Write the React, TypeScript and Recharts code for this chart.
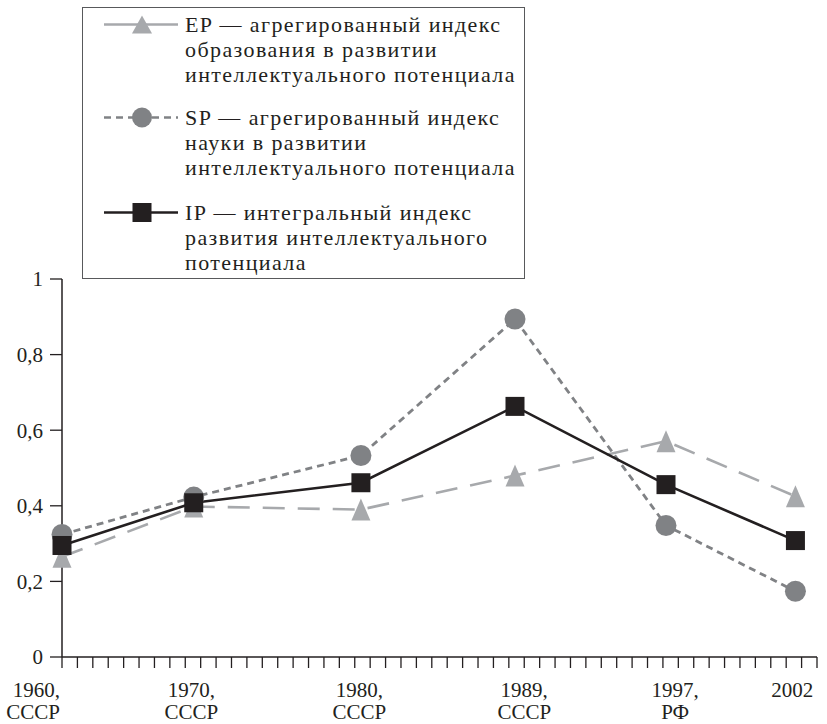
import React from 'react';
import { LineChart, Line, XAxis, YAxis } from 'recharts';

// observation labels under the x axis
const yearLabels = ['1960,', '1970,', '1980,', '1989,', '1997,', '2002'];
const regionLabels = ['СССР', 'СССР', 'СССР', 'СССР', 'РФ', ''];
// where each observation sits on the axis, in minor-tick units (axis runs 0..49)
const pointPos = [0, 8.55, 19.4, 29.4, 39.2, 47.6];
const labelPos = [0, 8.4, 19.3, 30, 39.8, 47.4];

const epValues = [0.265, 0.398, 0.39, 0.48, 0.571, 0.425];
const spValues = [0.324, 0.423, 0.533, 0.894, 0.348, 0.174];
const ipValues = [0.295, 0.408, 0.461, 0.663, 0.456, 0.308];

const yTicks = [0, 0.2, 0.4, 0.6, 0.8, 1];
const minorTicks = Array.from({ length: 50 }, (_, i) => i);

const epLegend = ['EP — агрегированный индекс', 'образования в развитии', 'интеллектуального потенциала'];
const spLegend = ['SP — агрегированный индекс', 'науки в развитии', 'интеллектуального потенциала'];
const ipLegend = ['IP — интегральный индекс', 'развития интеллектуального', 'потенциала'];

const INK = '#231f20';
const EP_COLOR = '#a7a9ac';
const SP_COLOR = '#808285';
const FONT = '"Liberation Serif", "Times New Roman", serif';

const data = pointPos.map((x, i) => ({ x, ep: epValues[i], sp: spValues[i], ip: ipValues[i] }));
const xTicks = Array.from(new Set([...minorTicks, ...labelPos])).sort((a, b) => a - b);

const Triangle = ({ cx, cy, fill, w = 19, h = 22 }: any) => (
  <path d={`M${cx},${cy - h / 2} L${cx + w / 2},${cy + h / 2} L${cx - w / 2},${cy + h / 2} Z`} fill={fill} />
);
const Circle = ({ cx, cy, fill, r = 10.5 }: any) => <circle cx={cx} cy={cy} r={r} fill={fill} />;
const Square = ({ cx, cy, fill, s = 19 }: any) => <rect x={cx - s / 2} y={cy - s / 2} width={s} height={s} fill={fill} />;

const XTick = (props: any) => {
  const { x, y, payload } = props;
  const v = payload.value;
  const li = labelPos.indexOf(v);
  const first = li === 0;
  const tx = first ? x - 2 : x;
  return (
    <g>
      {Number.isInteger(v) && <line x1={x} x2={x} y1={y} y2={y + 11} stroke={INK} strokeWidth={1.3} />}
      {li >= 0 && (
        <text x={tx} textAnchor={first ? 'end' : 'middle'} fontFamily={FONT} fontSize={21} fill={INK}>
          <tspan x={tx} y={y + 40}>{yearLabels[li]}</tspan>
          <tspan x={tx} y={y + 62}>{regionLabels[li]}</tspan>
        </text>
      )}
    </g>
  );
};

const LegendEntry = ({ lines, marker, color, dash, marginTop }: any) => (
  <div style={{ position: 'relative', marginTop, paddingLeft: 102 }}>
    <svg width={100} height={25} style={{ position: 'absolute', left: 0, top: 0 }}>
      <line x1={21} x2={95} y1={12.5} y2={12.5} stroke={color} strokeWidth={2.6} strokeDasharray={dash} />
      {marker === 'triangle' && <Triangle cx={59} cy={12.5} fill={color} w={20} h={18} />}
      {marker === 'circle' && <Circle cx={59} cy={12.5} fill={color} r={10} />}
      {marker === 'square' && <Square cx={59} cy={12.5} fill={color} s={19} />}
    </svg>
    {lines.map((t: string, i: number) => (
      <div key={i} style={{ height: 25, lineHeight: '25px', whiteSpace: 'nowrap' }}>{t}</div>
    ))}
  </div>
);

export default function App() {
  return (
    <div style={{ position: 'absolute', left: 0, top: 0, width: 827, height: 724, background: '#fff' }}>
      <LineChart width={827} height={724} data={data} margin={{ top: 279, right: 10, left: 0, bottom: 0 }}>
        <XAxis
          dataKey="x"
          type="number"
          domain={[0, 49]}
          ticks={xTicks}
          interval={0}
          height={67}
          tickLine={false}
          tickSize={0}
          tickMargin={0}
          axisLine={{ stroke: INK, strokeWidth: 1.5 }}
          tick={<XTick />}
        />
        <YAxis
          type="number"
          domain={[0, 1]}
          ticks={yTicks}
          interval={0}
          width={62}
          tickSize={12}
          tickMargin={7}
          tickFormatter={(v: number) => String(v).replace('.', ',')}
          axisLine={{ stroke: INK, strokeWidth: 1.5 }}
          tickLine={{ stroke: INK, strokeWidth: 1.3 }}
          tick={{ fontFamily: FONT, fontSize: 21, fill: INK }}
        />
        <Line dataKey="ep" stroke={EP_COLOR} strokeWidth={2.6} strokeDasharray="22 13" isAnimationActive={false}
          dot={(p: any) => <Triangle key={p.index} cx={p.cx} cy={p.cy} fill={EP_COLOR} />} activeDot={false} />
        <Line dataKey="sp" stroke={SP_COLOR} strokeWidth={2.8} strokeDasharray="7 5" isAnimationActive={false}
          dot={(p: any) => <Circle key={p.index} cx={p.cx} cy={p.cy} fill={SP_COLOR} />} activeDot={false} />
        <Line dataKey="ip" stroke={INK} strokeWidth={2.6} isAnimationActive={false}
          dot={(p: any) => <Square key={p.index} cx={p.cx} cy={p.cy} fill={INK} />} activeDot={false} />
      </LineChart>
      <div
        style={{
          position: 'absolute', left: 82, top: 7, width: 443, height: 272, boxSizing: 'border-box',
          border: '1.6px solid #58595b', paddingTop: 4, paddingLeft: 0,
          fontFamily: FONT, fontSize: 22, color: INK, letterSpacing: 1.4, background: '#fff',
        }}
      >
        <LegendEntry lines={epLegend} marker="triangle" color={EP_COLOR} marginTop={0} />
        <LegendEntry lines={spLegend} marker="circle" color={SP_COLOR} dash="7 5" marginTop={18} />
        <LegendEntry lines={ipLegend} marker="square" color={INK} marginTop={20} />
      </div>
    </div>
  );
}
